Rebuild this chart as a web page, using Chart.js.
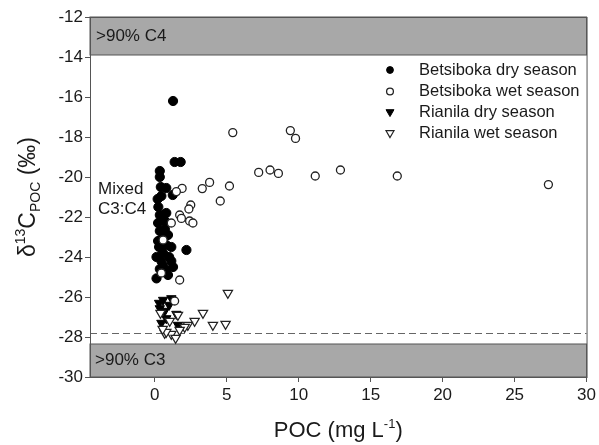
<!DOCTYPE html>
<html>
<head>
<meta charset="utf-8">
<script src="https://cdn.jsdelivr.net/npm/chart.js@4.4.0/dist/chart.umd.min.js"></script>
<style>
  html, body { margin: 0; padding: 0; background: #fff; }
  #wrap { width: 599px; height: 445px; }
</style>
</head>
<body>
<div id="wrap"><canvas id="chart" width="599" height="445"></canvas></div>
<script>
// 🔹 data: [POC mg/L, δ13C ‰]
const betsibokaDry = [
  [1.27, -16.2], [1.38, -19.25], [1.8, -19.25], [0.35, -19.7], [0.35, -20.0],
  [0.42, -20.5], [0.8, -20.55], [0.46, -20.95], [1.25, -20.9], [0.35, -21.9],
  [0.8, -21.8], [0.23, -22.3], [0.69, -22.2], [0.35, -22.7], [0.92, -22.9],
  [0.23, -23.2], [0.8, -23.4], [1.15, -23.5], [2.2, -23.65], [0.12, -24.0],
  [0.58, -23.8], [0.46, -24.2], [1.15, -24.2], [0.35, -24.6], [1.27, -24.5],
  [0.8, -24.7], [0.12, -25.07], [0.92, -24.9], [0.25, -21.5], [0.6, -23.0],
  [0.2, -21.1], [0.7, -22.6], [0.3, -23.5], [1.0, -24.0], [0.6, -24.45]
];
const betsibokaWet = [
  [5.42, -17.78], [9.42, -17.68], [9.78, -18.07], [7.22, -19.77], [8.01, -19.65],
  [8.59, -19.82], [11.15, -19.95], [12.9, -19.65], [16.85, -19.95], [27.35, -20.38],
  [3.81, -20.27], [3.3, -20.58], [5.19, -20.45], [4.55, -21.2], [1.9, -20.57],
  [1.5, -20.73], [2.5, -21.4], [2.37, -21.6], [1.73, -21.9], [1.85, -22.07],
  [2.42, -22.2], [2.65, -22.3], [1.15, -22.3], [0.58, -23.15], [0.46, -24.8],
  [1.73, -25.15], [1.38, -26.2]
];
const rianilaDry = [
  [0.58, -26.15], [1.15, -26.07], [0.35, -26.57], [0.69, -26.7], [1.5, -26.85],
  [0.8, -27.07], [0.46, -27.3], [1.61, -27.4], [0.3, -26.3], [1.0, -26.4]
];
const rianilaWet = [
  [5.08, -25.8], [3.35, -26.8], [0.4, -26.8], [1.61, -26.9], [2.77, -27.2],
  [1.04, -27.2], [2.3, -27.4], [4.04, -27.4], [4.92, -27.35], [2.08, -27.5],
  [0.69, -27.8], [1.15, -27.85], [1.73, -27.65], [1.45, -28.05], [0.8, -27.75],
  [0.55, -27.6]
];

const seriesNames = ["Betsiboka dry season", "Betsiboka wet season", "Rianila dry season", "Rianila wet season"];
const xTicks = [0, 5, 10, 15, 20, 25, 30];
const yTicks = [-30, -28, -26, -24, -22, -20, -18, -16, -14, -12];
const c4Band = [-13.9, -12];   // >90% C4
const c3Band = [-30, -28.35];  // >90% C3
const dashedLevel = -27.8;

const FONT = "'Liberation Sans', Arial, sans-serif";
const INK = "#1a1a1a";
const AXIS = "#555";

const toXY = arr => arr.map(p => ({ x: p[0], y: p[1] }));

// 🔹 bands, labels, frame, legend, axis titles
const decor = {
  id: "decor",
  beforeDatasetsDraw(chart) {
    const { ctx, chartArea: a, scales: { y } } = chart;
    ctx.save();
    ctx.fillStyle = "#a8a8a8";
    ctx.strokeStyle = AXIS;
    ctx.lineWidth = 1;
    for (const band of [c4Band, c3Band]) {
      const top = y.getPixelForValue(band[1]);
      const bot = y.getPixelForValue(band[0]);
      ctx.fillRect(a.left, top, a.right - a.left, bot - top);
      ctx.strokeRect(a.left, top, a.right - a.left, bot - top);
    }
    ctx.fillStyle = INK;
    ctx.font = "17px " + FONT;
    ctx.textBaseline = "middle";
    ctx.fillText(">90% C4", a.left + 6, y.getPixelForValue((c4Band[0] + c4Band[1]) / 2));
    ctx.fillText(">90% C3", a.left + 5, y.getPixelForValue((c3Band[0] + c3Band[1]) / 2));

    ctx.font = "17px " + FONT;
    ctx.fillText("Mixed", a.left + 8, y.getPixelForValue(-20.6));
    ctx.fillText("C3:C4", a.left + 8, y.getPixelForValue(-21.6));

    ctx.strokeStyle = "#666";
    ctx.setLineDash([7, 4]);
    const yd = Math.round(y.getPixelForValue(dashedLevel)) + 0.5;
    ctx.beginPath();
    ctx.moveTo(a.left, yd);
    ctx.lineTo(a.right, yd);
    ctx.stroke();
    ctx.restore();
  },
  afterDraw(chart) {
    const { ctx, chartArea: a } = chart;
    ctx.save();
    ctx.strokeStyle = AXIS;
    ctx.lineWidth = 1;
    ctx.strokeRect(a.left + 0.5, a.top + 0.5, a.right - a.left, a.bottom - a.top);

    // legend
    ctx.font = "16.5px " + FONT;
    ctx.textBaseline = "middle";
    const rows = [70, 91.5, 112, 133];
    chart.data.datasets.forEach((ds, i) => {
      ctx.fillStyle = ds.backgroundColor;
      ctx.strokeStyle = ds.borderColor;
      ctx.lineWidth = ds.borderWidth;
      Chart.helpers.drawPoint(ctx, {
        pointStyle: ds.pointStyle,
        radius: ds.pointStyle === "circle" ? 3.4 : 4.6,
        rotation: ds.pointRotation || 0,
        borderWidth: ds.borderWidth
      }, 390, rows[i]);
      ctx.fillStyle = INK;
      ctx.fillText(seriesNames[i], 419, rows[i]);
    });

    // x title
    ctx.fillStyle = INK;
    ctx.textBaseline = "alphabetic";
    const cx = (a.left + a.right) / 2;
    drawParts(ctx, [["POC (mg L", 22, 0], ["-1", 13, -9], [")", 22, 0]], cx, 437);

    // y title (rotated)
    ctx.translate(35, (a.top + a.bottom) / 2);
    ctx.rotate(-Math.PI / 2);
    drawParts(ctx, [["δ", 23, 0], ["13", 14, -10], ["C", 23, 0], ["POC", 14, 5], [" (‰)", 23, 0]], 0, 0);
    ctx.restore();
  }
};

function drawParts(ctx, parts, cx, baseY) {
  let total = 0;
  for (const [t, s] of parts) { ctx.font = s + "px " + FONT; total += ctx.measureText(t).width; }
  let xx = cx - total / 2;
  ctx.textAlign = "left";
  for (const [t, s, dy] of parts) {
    ctx.font = s + "px " + FONT;
    ctx.fillText(t, xx, baseY + dy);
    xx += ctx.measureText(t).width;
  }
}

const tickFont = { family: FONT, size: 17 };

new Chart(document.getElementById("chart"), {
  type: "scatter",
  data: {
    datasets: [
      { label: seriesNames[0], data: toXY(betsibokaDry), pointStyle: "circle", pointRadius: 4.6,
        backgroundColor: "#000", borderColor: "#000", borderWidth: 1, order: 2 },
      { label: seriesNames[1], data: toXY(betsibokaWet), pointStyle: "circle", pointRadius: 4,
        backgroundColor: "#fff", borderColor: "#222", borderWidth: 1.3, order: 1 },
      { label: seriesNames[2], data: toXY(rianilaDry), pointStyle: "triangle", pointRadius: 5.4, pointRotation: 180,
        backgroundColor: "#000", borderColor: "#000", borderWidth: 1, order: 2 },
      { label: seriesNames[3], data: toXY(rianilaWet), pointStyle: "triangle", pointRadius: 5.4, pointRotation: 180,
        backgroundColor: "#fff", borderColor: "#222", borderWidth: 1.2, order: 1 }
    ]
  },
  options: {
    responsive: false,
    animation: false,
    layout: { padding: { left: 0, top: 17, right: 11, bottom: 0 } },
    plugins: { legend: { display: false }, tooltip: { enabled: false } },
    scales: {
      x: {
        type: "linear", min: -4.5, max: 30,
        afterBuildTicks: s => { s.ticks = xTicks.map(v => ({ value: v })); },
        afterFit: s => { s.height = 68; },
        grid: { display: true, drawOnChartArea: false, tickLength: 5, color: AXIS },
        border: { display: true, color: AXIS },
        ticks: { font: tickFont, color: INK, padding: 3, maxRotation: 0 }
      },
      y: {
        type: "linear", min: -30, max: -12,
        afterBuildTicks: s => { s.ticks = yTicks.map(v => ({ value: v })); },
        afterFit: s => { s.width = 90; },
        grid: { display: true, drawOnChartArea: false, tickLength: 5, color: AXIS },
        border: { display: true, color: AXIS },
        ticks: { font: tickFont, color: INK, padding: 2 }
      }
    }
  },
  plugins: [decor]
});
</script>
</body>
</html>
